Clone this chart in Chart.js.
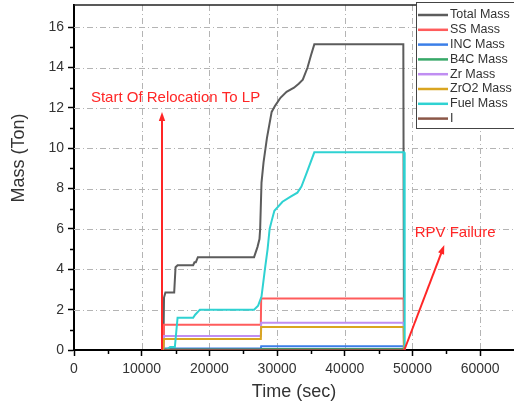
<!DOCTYPE html>
<html>
<head>
<meta charset="utf-8">
<script src="https://cdn.jsdelivr.net/npm/chart.js@4.4.0/dist/chart.umd.min.js"></script>
<style>
  html, body { margin: 0; padding: 0; background: #fff; }
</style>
</head>
<body>
<canvas id="massChart" width="514" height="405"></canvas>
<script>
// Axis ticks
const xTicks = [0, 10000, 20000, 30000, 40000, 50000, 60000];
const xMinorTicks = [5000, 15000, 25000, 35000, 45000, 55000];
const yTicks = [0, 2, 4, 6, 8, 10, 12, 14, 16];
const yMinorTicks = [1, 3, 5, 7, 9, 11, 13, 15];

// Series (time in sec, mass in Ton)
const totalTime = [13200, 13300, 13500, 14800, 15000, 15300, 17600, 17800, 18000, 18300, 26600, 27100, 27400, 27500, 27700, 28000, 28500, 29200, 29700, 30500, 31400, 32500, 33200, 33800, 34500, 35000, 35500, 48650, 48750];
const totalMass = [0, 2.6, 2.85, 2.85, 4.1, 4.2, 4.2, 4.35, 4.35, 4.6, 4.6, 5.1, 5.5, 6.0, 8.3, 9.3, 10.5, 11.8, 12.1, 12.5, 12.8, 13.0, 13.2, 13.4, 14.0, 14.6, 15.15, 15.15, 0];

const ssTime = [13200, 13300, 27600, 27650, 48700, 48750];
const ssMass = [0, 1.25, 1.25, 2.55, 2.55, 0];

const incTime = [13300, 13400, 27600, 27650, 48700, 48750];
const incMass = [0, 0.07, 0.07, 0.18, 0.18, 0];

const b4cTime = [13300, 13400, 27600, 27650, 48700, 48750];
const b4cMass = [0, 0.03, 0.03, 0.05, 0.05, 0];

const zrTime = [13200, 13300, 27600, 27650, 48700, 48750];
const zrMass = [0, 0.7, 0.7, 1.35, 1.35, 0];

const zro2Time = [13200, 13300, 27600, 27650, 48700, 48750];
const zro2Mass = [0, 0.55, 0.55, 1.14, 1.14, 0];

const fuelTime = [13300, 13800, 14200, 14900, 15300, 17600, 17900, 18600, 26600, 27200, 27700, 28200, 28600, 28900, 29200, 29600, 30800, 32000, 33000, 33600, 34400, 35500, 48750, 48850];
const fuelMass = [0, 0.05, 0.15, 0.15, 1.6, 1.6, 1.75, 2.0, 2.0, 2.2, 2.65, 4.0, 5.0, 6.0, 6.4, 6.9, 7.35, 7.6, 7.8, 8.1, 8.8, 9.8, 9.8, 0];

const iTime = [13300, 13400, 48700, 48750];
const iMass = [0, 0.01, 0.01, 0];

// Annotations in data units
const arrows = [
    { from: [13000, 0], to: [13000, 11.8] },
    { from: [48800, 0], to: [54700, 5.2] }
];
const notes = [
    { text: 'Start Of Relocation To LP', at: [15000, 12.5] },
    { text: 'RPV Failure', at: [56300, 5.8] }
];

const FONT = "'Liberation Sans', Arial, sans-serif";
const RED = '#ff2626';

function toPoints(xs, ys) {
    return xs.map((x, i) => ({ x: x, y: ys[i] }));
}

function series(label, xs, ys, color) {
    return { label: label, data: toPoints(xs, ys), borderColor: color, backgroundColor: color };
}

const datasets = [
    series('Total Mass', totalTime, totalMass, '#5c5c5c'),
    series('SS Mass', ssTime, ssMass, '#ff5c5c'),
    series('INC Mass', incTime, incMass, '#3b7fe8'),
    series('B4C Mass', b4cTime, b4cMass, '#37a868'),
    series('Zr Mass', zrTime, zrMass, '#c08ef2'),
    series('ZrO2 Mass', zro2Time, zro2Mass, '#d9a521'),
    series('Fuel Mass', fuelTime, fuelMass, '#2fd2d2'),
    series('I', iTime, iMass, '#8b5747')
];
// later series on top, like the original plot
datasets.forEach((d, i) => { d.order = datasets.length - i; });

// Dash-dot grid, minor ticks, top frame, arrows, notes, legend and y title
const extras = {
    id: 'extras',
    beforeDatasetsDraw(chart) {
        const ctx = chart.ctx;
        const area = chart.chartArea;
        const xs = chart.scales.x, ys = chart.scales.y;
        ctx.save();
        ctx.strokeStyle = '#b4b4b4';
        ctx.lineWidth = 1;
        ctx.setLineDash([6, 3, 1, 3]);
        ctx.beginPath();
        xTicks.slice(1).forEach(v => {
            const px = Math.round(xs.getPixelForValue(v)) + 0.5;
            ctx.moveTo(px, area.top);
            ctx.lineTo(px, area.bottom);
        });
        yTicks.slice(1).forEach(v => {
            const py = Math.round(ys.getPixelForValue(v)) + 0.5;
            ctx.moveTo(area.left, py);
            ctx.lineTo(area.right, py);
        });
        ctx.stroke();
        ctx.restore();
    },
    afterDatasetsDraw(chart) {
        const ctx = chart.ctx;
        const xs = chart.scales.x, ys = chart.scales.y;
        ctx.save();
        ctx.strokeStyle = RED;
        ctx.fillStyle = RED;
        ctx.lineWidth = 2;
        arrows.forEach(a => {
            const x0 = xs.getPixelForValue(a.from[0]), y0 = ys.getPixelForValue(a.from[1]);
            const x1 = xs.getPixelForValue(a.to[0]), y1 = ys.getPixelForValue(a.to[1]);
            const ang = Math.atan2(y1 - y0, x1 - x0);
            const head = 9, half = 3.2;
            ctx.beginPath();
            ctx.moveTo(x0, y0);
            ctx.lineTo(x1 - Math.cos(ang) * head * 0.8, y1 - Math.sin(ang) * head * 0.8);
            ctx.stroke();
            ctx.beginPath();
            ctx.moveTo(x1, y1);
            ctx.lineTo(x1 - Math.cos(ang) * head - Math.sin(ang) * half, y1 - Math.sin(ang) * head + Math.cos(ang) * half);
            ctx.lineTo(x1 - Math.cos(ang) * head + Math.sin(ang) * half, y1 - Math.sin(ang) * head - Math.cos(ang) * half);
            ctx.closePath();
            ctx.fill();
        });
        ctx.font = '15px ' + FONT;
        ctx.textAlign = 'center';
        ctx.textBaseline = 'middle';
        notes.forEach(n => {
            ctx.fillText(n.text, xs.getPixelForValue(n.at[0]), ys.getPixelForValue(n.at[1]));
        });
        ctx.restore();
    },
    afterDraw(chart) {
        const ctx = chart.ctx;
        const area = chart.chartArea;
        const xs = chart.scales.x, ys = chart.scales.y;
        ctx.save();
        // minor ticks
        ctx.strokeStyle = '#000';
        ctx.lineWidth = 1.5;
        ctx.beginPath();
        xMinorTicks.forEach(v => {
            const px = Math.round(xs.getPixelForValue(v)) + 0.5;
            ctx.moveTo(px, area.bottom);
            ctx.lineTo(px, area.bottom + 4);
        });
        yMinorTicks.forEach(v => {
            const py = Math.round(ys.getPixelForValue(v)) + 0.5;
            ctx.moveTo(area.left - 4, py);
            ctx.lineTo(area.left, py);
        });
        ctx.stroke();
        // top frame
        ctx.lineWidth = 1.5;
        ctx.strokeStyle = '#222';
        ctx.beginPath();
        ctx.moveTo(area.left, area.top);
        ctx.lineTo(area.right, area.top);
        ctx.stroke();

        // legend box
        const lx = 416, ly = 2, lw = 100, lh = 126, row = 14.8;
        ctx.fillStyle = '#fff';
        ctx.fillRect(lx, ly, lw, lh);
        ctx.strokeStyle = '#444';
        ctx.lineWidth = 1;
        ctx.strokeRect(lx + 0.5, ly + 0.5, lw, lh);
        ctx.font = '12.5px ' + FONT;
        ctx.textAlign = 'left';
        ctx.textBaseline = 'middle';
        chart.data.datasets.forEach((d, i) => {
            const cy = ly + 13 + i * row;
            ctx.strokeStyle = d.borderColor;
            ctx.lineWidth = 2.5;
            ctx.beginPath();
            ctx.moveTo(lx + 2, cy);
            ctx.lineTo(lx + 32, cy);
            ctx.stroke();
            ctx.fillStyle = '#333';
            ctx.fillText(d.label, lx + 34, cy);
        });

        // y axis title
        ctx.translate(19, 158);
        ctx.rotate(-Math.PI / 2);
        ctx.font = '18px ' + FONT;
        ctx.textAlign = 'center';
        ctx.fillStyle = '#333';
        ctx.fillText('Mass (Ton)', 0, 0);
        ctx.restore();
    }
};

const gridStyle = {
    display: true,
    drawOnChartArea: false,
    drawTicks: true,
    tickLength: 6,
    tickColor: '#000',
    tickWidth: 1.5
};

new Chart(document.getElementById('massChart'), {
    type: 'line',
    data: { datasets: datasets },
    options: {
        responsive: false,
        animation: false,
        layout: { padding: { top: 5, right: 0, bottom: 0, left: 0 } },
        elements: {
            point: { radius: 0 },
            line: { borderWidth: 2, tension: 0 }
        },
        plugins: {
            legend: { display: false },
            tooltip: { enabled: false }
        },
        scales: {
            x: {
                type: 'linear',
                min: 0,
                max: 65000,
                afterBuildTicks: s => { s.ticks = xTicks.map(v => ({ value: v })); },
                afterFit: s => { s.height = 55; s.paddingLeft = 0; s.paddingRight = 0; },
                grid: gridStyle,
                border: { color: '#000', width: 2 },
                ticks: {
                    color: '#333',
                    padding: 5,
                    maxRotation: 0,
                    autoSkip: false,
                    callback: v => String(v),
                    font: { family: FONT, size: 14 }
                },
                title: {
                    display: true,
                    text: 'Time (sec)',
                    color: '#333',
                    font: { family: FONT, size: 18, lineHeight: 1 },
                    padding: { top: 0, bottom: 4 }
                }
            },
            y: {
                type: 'linear',
                min: 0,
                max: 17.1,
                afterBuildTicks: s => { s.ticks = yTicks.map(v => ({ value: v })); },
                afterFit: s => { s.width = 74; s.paddingTop = 0; s.paddingBottom = 0; },
                grid: gridStyle,
                border: { color: '#000', width: 2 },
                ticks: {
                    color: '#333',
                    padding: 4,
                    callback: v => String(v),
                    font: { family: FONT, size: 14 }
                }
            }
        }
    },
    plugins: [extras]
});
</script>
</body>
</html>
